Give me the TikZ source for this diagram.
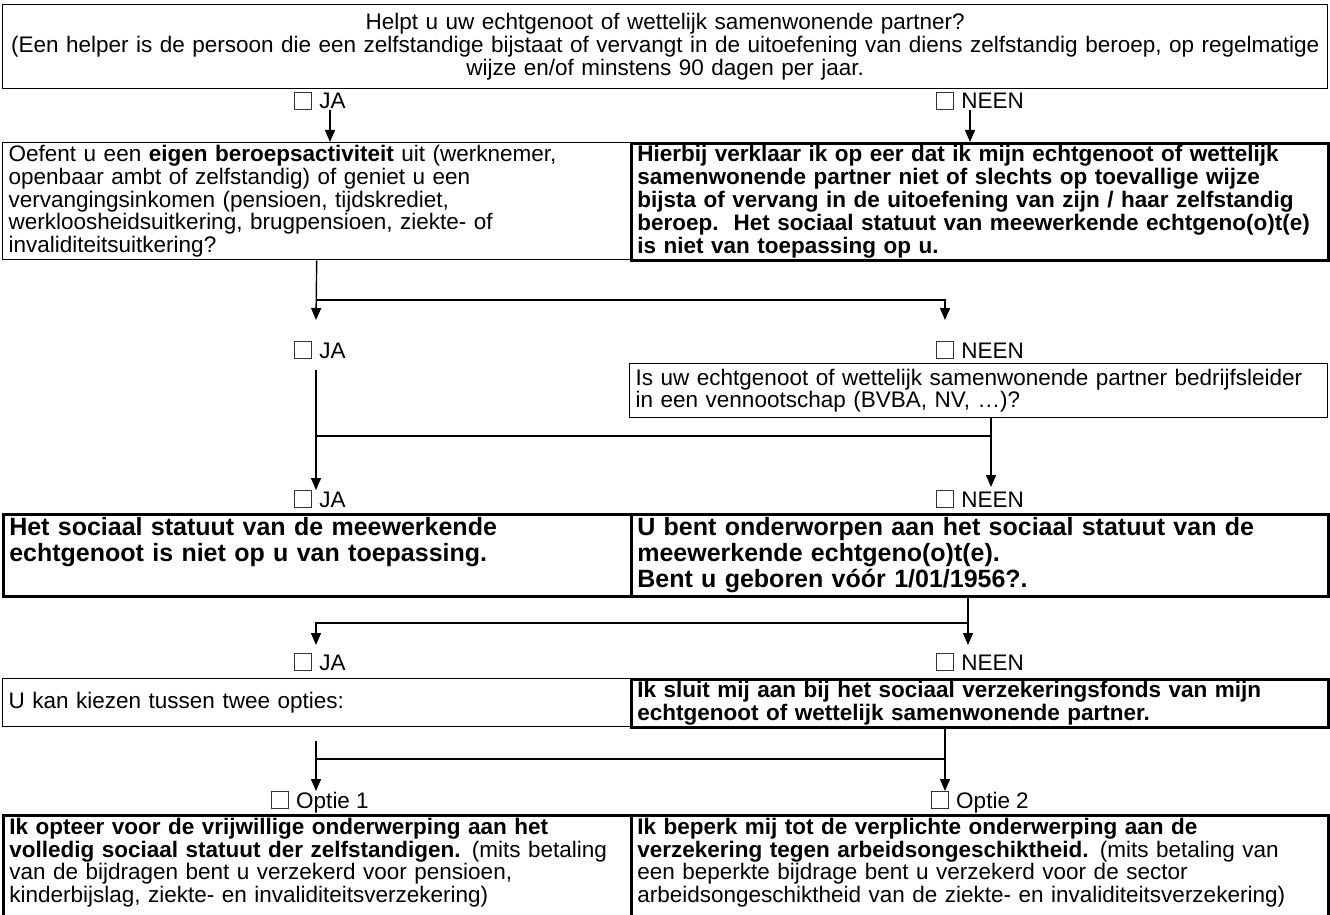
\documentclass[tikz,border=0pt]{standalone}
\usepackage{fontspec}
\setmainfont{Liberation Sans}
\usetikzlibrary{arrows.meta, positioning, calc}
\definecolor{lijnkleur}{HTML}{000000}
\definecolor{vakkleur}{HTML}{333333}

\newcommand{\gewoon}{\fontsize{22.5}{22.8}\selectfont}
\newcommand{\groot}{\fontsize{25}{26}\selectfont\bfseries}
% an empty tick box, as printed on the form
\newcommand{\hokje}{{\setlength{\fboxsep}{0pt}\setlength{\fboxrule}{1pt}%
  \color{vakkleur}\fbox{\rule{0pt}{16pt}\hspace{16pt}}}}

\begin{document}
\begin{tikzpicture}[
    x=1pt, y=-1pt,
    every node/.style={font=\gewoon, inner sep=0pt},
    cel/.style={draw=lijnkleur, anchor=north west, align=left, inner xsep=6pt,
                inner ysep=0pt, line width=1.4pt},
    dik/.style={line width=2.6pt},
    lijn/.style={draw=lijnkleur, line width=1.4pt},
    pijl/.style={lijn, -{Triangle[length=12pt, width=10pt]}},
]
\useasboundingbox (0,0) rectangle (1330,915);
\fill[white] (0,0) rectangle (1330,915);
\clip (0,0) rectangle (1330,915);

% the opening question
\node[cel, align=center, text width=1313pt, minimum height=84pt] (hulp) at (2,4)
     {Helpt u uw echtgenoot of wettelijk samenwonende partner?\\
      (Een helper is de persoon die een zelfstandige bijstaat of vervangt in de uitoefening van diens zelfstandig beroep, op regelmatige\\
      wijze en/of minstens 90 dagen per jaar.};
\node (ja1) at (320,101) {\hokje\hspace{7pt}JA};
\node (nee1) at (980,101) {\hokje\hspace{7pt}NEEN};

% second row
\node[cel, text width=616pt, minimum height=117pt] (rij2l) at (2,142)
     {Oefent u een \textbf{eigen beroepsactiviteit} uit (werknemer,\\
      openbaar ambt of zelfstandig) of geniet u een\\
      vervangingsinkomen (pensioen, tijdskrediet,\\
      werkloosheidsuitkering, brugpensioen, ziekte- of\\
      invaliditeitsuitkering?};
\node[cel, dik, text width=685pt, minimum height=117pt, font=\gewoon\bfseries] (rij2r) at (630,142)
     {Hierbij verklaar ik op eer dat ik mijn echtgenoot of wettelijk\\
      samenwonende partner niet of slechts op toevallige wijze\\
      bijsta of vervang in de uitoefening van zijn / haar zelfstandig\\
      beroep.\ \ Het sociaal statuut van meewerkende echtgeno(o)t(e)\\
      is niet van toepassing op u.};
\draw[pijl] ([xshift=10pt]ja1.south) -- ([xshift=10pt]ja1.south |- rij2l.north);
\draw[pijl] ([xshift=-10pt]nee1.south) -- ([xshift=-10pt]nee1.south |- rij2r.north);

\coordinate (knoopA) at (316,300);
\coordinate (puntA1) at (316,320);
\coordinate (puntA2) at (945,320);
\draw[pijl] (rij2l.south) -- (puntA1);
\draw[pijl] (knoopA) -| (puntA2);

\node (ja2) at (320,350) {\hokje\hspace{7pt}JA};
\node (nee2) at (980,350) {\hokje\hspace{7pt}NEEN};
\node[cel, text width=686pt, minimum height=54pt] (bedrijf) at (629,363)
     {Is uw echtgenoot of wettelijk samenwonende partner bedrijfsleider\\
      in een vennootschap (BVBA, NV, \dots)?};

\coordinate (startB) at (316,370);
\coordinate (knoopB) at (316,436);
\coordinate (puntB1) at (316,490);
\coordinate (puntB2) at (991,487);
\draw[pijl] (startB) -- (puntB1);
\draw[lijn] (knoopB) -- (knoopB -| puntB2);
\draw[pijl] (bedrijf.south -| puntB2) -- (puntB2);

\node (ja3) at (320,499) {\hokje\hspace{7pt}JA};
\node (nee3) at (980,499) {\hokje\hspace{7pt}NEEN};

% fourth row, larger type
\node[cel, dik, text width=616pt, text height=21pt, text depth=61pt, font=\groot] (rij4l) at (2,513)
     {Het sociaal statuut van de meewerkende\\
      echtgenoot is niet op u van toepassing.};
\node[cel, dik, text width=685pt, text height=21pt, text depth=61pt, font=\groot] (rij4r) at (630,513)
     {U bent onderworpen aan het sociaal statuut van de\\
      meewerkende echtgeno(o)t(e).\\
      Bent u geboren vóór 1/01/1956?.};

\coordinate (knoopC) at (968,623);
\coordinate (puntC1) at (316,645);
\coordinate (puntC2) at (968,645);
\draw[pijl] (rij4r.south -| puntC2) -- (puntC2);
\draw[pijl] (knoopC) -| (puntC1);

\node (ja4) at (320,662) {\hokje\hspace{7pt}JA};
\node (nee4) at (980,662) {\hokje\hspace{7pt}NEEN};

\node[cel, text width=616pt, minimum height=48pt] (rij5l) at (2,678)
     {U kan kiezen tussen twee opties:};
\node[cel, dik, text width=685pt, minimum height=48pt, font=\gewoon\bfseries] (rij5r) at (630,678)
     {Ik sluit mij aan bij het sociaal verzekeringsfonds van mijn\\
      echtgenoot of wettelijk samenwonende partner.};

\coordinate (startD) at (316,741);
\coordinate (knoopD) at (316,759);
\coordinate (puntD1) at (316,791);
\coordinate (puntD2) at (945,791);
\draw[pijl] (startD) -- (puntD1);
\draw[lijn] (knoopD) -- (knoopD -| puntD2);
\draw[pijl] (rij5r.south -| puntD2) -- (puntD2);

\node (optie1) at (320,802) {\hokje\hspace{7pt}Optie 1};
\node (optie2) at (980,802) {\hokje\hspace{7pt}Optie 2};

% the two options, running off the page
\node[cel, dik, text width=616pt, text height=19pt, text depth=102pt] (rij6l) at (2,814)
     {\textbf{Ik opteer voor de vrijwillige onderwerping aan het}\\
      \textbf{volledig sociaal statuut der zelfstandigen.} (mits betaling\\
      van de bijdragen bent u verzekerd voor pensioen,\\
      kinderbijslag, ziekte- en invaliditeitsverzekering)};
\node[cel, dik, text width=685pt, text height=19pt, text depth=102pt] (rij6r) at (630,814)
     {\textbf{Ik beperk mij tot de verplichte onderwerping aan de}\\
      \textbf{verzekering tegen arbeidsongeschiktheid.} (mits betaling van\\
      een beperkte bijdrage bent u verzekerd voor de sector\\
      arbeidsongeschiktheid van de ziekte- en invaliditeitsverzekering)};
\end{tikzpicture}
\end{document}
